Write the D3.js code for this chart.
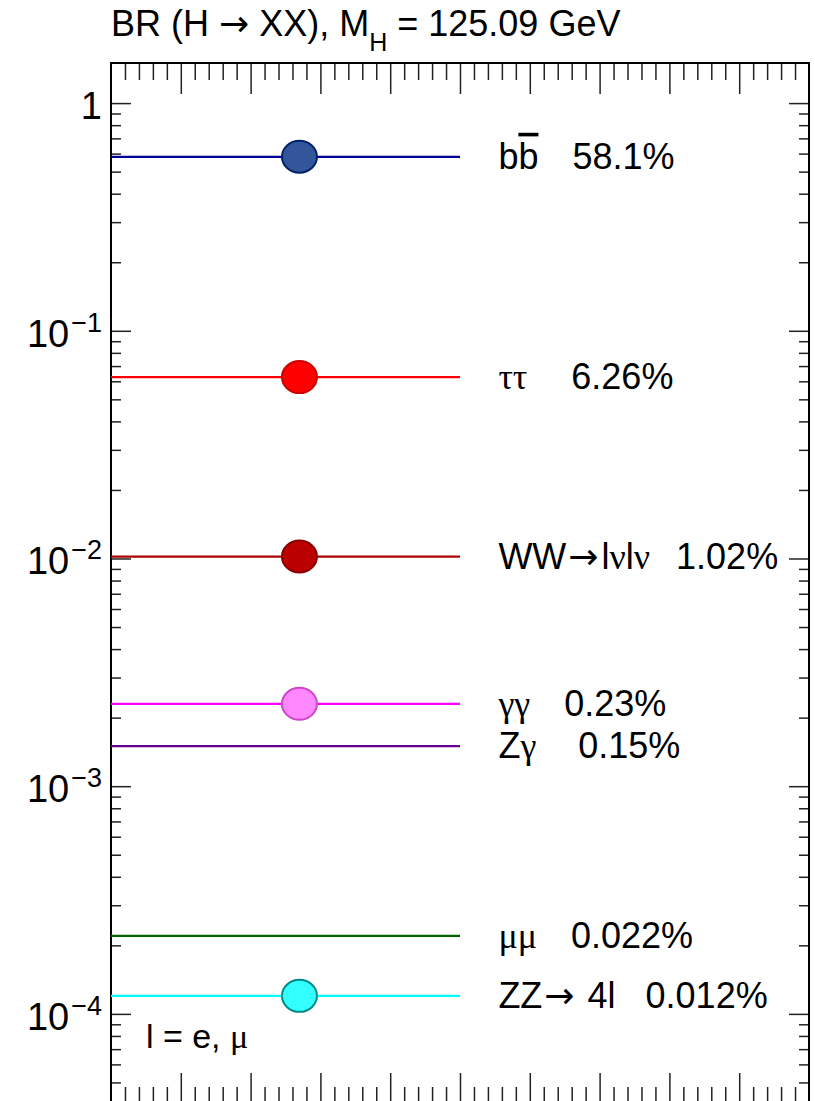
<!DOCTYPE html>
<html>
<head>
<meta charset="utf-8">
<script src="https://cdn.jsdelivr.net/npm/d3@7/dist/d3.min.js"></script>
<style>
  body { margin: 0; background: #fff; }
  svg { display: block; }
  text { font-family: "Liberation Sans", Arial, sans-serif; fill: #000; }
  .greek { font-family: "Liberation Serif", "DejaVu Serif", serif; }
  .arrow { font-family: "DejaVu Sans", sans-serif; }
</style>
</head>
<body>
<div class="chart"></div>
<script>
'use strict';

// Higgs branching ratios (M_H = 125.09 GeV)
var channels = ["bb", "tautau", "WW", "gammagamma", "Zgamma", "mumu", "ZZ"];
var brValues = [0.581, 0.0626, 0.0102, 0.0023, 0.0015, 0.00022, 0.00012];
var brLabels = ["58.1%", "6.26%", "1.02%", "0.23%", "0.15%", "0.022%", "0.012%"];
var lineColors = ["#000099", "#ff0000", "#aa0000", "#ff00ff", "#660099", "#006600", "#00ffff"];
var markerFills = ["#335599", "#ff0000", "#bb0000", "#ff88ff", null, null, "#33ffff"];
var markerStrokes = ["#002266", "#cc0000", "#880000", "#cc44cc", null, null, "#008888"];
var yMajorTicks = [1, 1e-1, 1e-2, 1e-3, 1e-4];
var yTickExponents = [0, -1, -2, -3, -4];

var width = 815, height = 1101;
var margin = {left: 111, right: 6, top: 63, bottom: -3};

var svg = d3.select(".chart").append("svg")
    .attr("width", width)
    .attr("height", height);

var x = d3.scaleLinear().domain([0, 1]).range([margin.left, width - margin.right]);
var y = d3.scaleLog().domain([4.02e-5, 1.5]).range([height - margin.bottom, margin.top]);

// minor ticks: 2..9 x 10^k
var yMinorTicks = [];
for (var k = -5; k <= 0; k++) {
    for (var m = 2; m <= 9; m++) {
        var v = m * Math.pow(10, k);
        if (v >= y.domain()[0] && v <= y.domain()[1]) yMinorTicks.push(v);
    }
}
var xMajorTicks = d3.range(1, 10).map(function (i) { return i / 10; });
var xMinorTicks = d3.range(1, 50).map(function (i) { return i / 50; })
    .filter(function (d, i) { return (i + 1) % 5 !== 0; });

function drawAxis(axis, tx, ty) {
    var g = svg.append("g")
        .attr("transform", "translate(" + tx + "," + ty + ")")
        .call(axis);
    g.select(".domain").remove();
    g.selectAll(".tick line").attr("stroke", "#222").attr("stroke-width", 1.5);
    g.selectAll(".tick text").remove();
    return g;
}

var x0 = x(0), x1 = x(1), yTop = y.range()[1], yBot = y.range()[0];

// left and right y axes (ticks pointing inward)
drawAxis(d3.axisRight(y).tickValues(yMajorTicks).tickSize(20), x0, 0);
drawAxis(d3.axisRight(y).tickValues(yMinorTicks).tickSize(10), x0, 0);
drawAxis(d3.axisLeft(y).tickValues(yMajorTicks).tickSize(20), x1, 0);
drawAxis(d3.axisLeft(y).tickValues(yMinorTicks).tickSize(10), x1, 0);

// top and bottom x axes
drawAxis(d3.axisBottom(x).tickValues(xMajorTicks).tickSize(31), 0, yTop);
drawAxis(d3.axisBottom(x).tickValues(xMinorTicks).tickSize(17), 0, yTop);
drawAxis(d3.axisTop(x).tickValues(xMajorTicks).tickSize(31), 0, yBot);
drawAxis(d3.axisTop(x).tickValues(xMinorTicks).tickSize(17), 0, yBot);

// frame
svg.append("rect")
    .attr("x", x0).attr("y", yTop)
    .attr("width", x1 - x0).attr("height", yBot - yTop)
    .attr("fill", "none").attr("stroke", "#000").attr("stroke-width", 2);

// y tick labels: 1, 10^-1 ...
var tickLabels = svg.append("g").selectAll("text")
    .data(yMajorTicks)
    .enter().append("text")
    .attr("x", x0 - 9)
    .attr("y", function (d) { return y(d); })
    .attr("dy", "0.42em")
    .attr("text-anchor", "end")
    .style("font-size", "38px");

tickLabels.each(function (d, i) {
    var t = d3.select(this);
    if (yTickExponents[i] === 0) {
        t.text("1");
    } else {
        t.append("tspan").text("10");
        t.append("tspan").attr("dx", 2).attr("dy", -15).style("font-size", "27px")
            .text("\u2212" + (-yTickExponents[i]));
    }
});

// BR lines
svg.append("g").selectAll("line")
    .data(brValues)
    .enter().append("line")
    .attr("x1", x(0)).attr("x2", x(0.5))
    .attr("y1", function (d) { return y(d); })
    .attr("y2", function (d) { return y(d); })
    .attr("stroke", function (d, i) { return lineColors[i]; })
    .attr("stroke-width", 2.2);

// markers
svg.append("g").selectAll("ellipse")
    .data(brValues.filter(function (d, i) { return markerFills[i]; }))
    .enter().append("ellipse")
    .attr("cx", x(0.27))
    .attr("cy", function (d) { return y(d); })
    .attr("rx", 17.5).attr("ry", 16)
    .attr("fill", function (d) { return markerFills[brValues.indexOf(d)]; })
    .attr("stroke", function (d) { return markerStrokes[brValues.indexOf(d)]; })
    .attr("stroke-width", 2);

// channel labels (name parts: [text, style])
var channelNames = {
    bb: [["b"], ["b", "bar"]],
    tautau: [["\u03c4\u03c4", "greek"]],
    WW: [["WW"], ["\u2192", "arrow"], ["l"], ["\u03bd", "greek"], ["l"], ["\u03bd", "greek"]],
    gammagamma: [["\u03b3\u03b3", "greek"]],
    Zgamma: [["Z"], ["\u03b3", "greek"]],
    mumu: [["\u03bc\u03bc", "greek"]],
    ZZ: [["ZZ"], ["\u2192", "arrow"], [" 4l"]]
};
var percentGap = [34, 44, 26, 34, 42, 34, 30];

var labels = svg.append("g").selectAll("text")
    .data(brValues)
    .enter().append("text")
    .attr("x", x(0.555))
    .attr("y", function (d) { return y(d); })
    .attr("dy", 12)
    .style("font-size", "36px")
    .attr("xml:space", "preserve");

labels.each(function (d, i) {
    var t = d3.select(this);
    var afterArrow = false;
    channelNames[channels[i]].forEach(function (p) {
        var s = t.append("tspan").text(p[0]);
        if (afterArrow) { s.attr("dx", 3); afterArrow = false; }
        if (p[1] === "bar") s.style("text-decoration", "overline");
        else if (p[1]) s.attr("class", p[1]);
        if (p[1] === "arrow") { s.attr("dx", 2); afterArrow = true; }
    });
    t.append("tspan").attr("dx", percentGap[i]).text(brLabels[i]);
});

// note
var note = svg.append("text")
    .attr("x", x(0.05))
    .attr("y", y(7.1e-5))
    .style("font-size", "34px")
    .attr("xml:space", "preserve");
note.append("tspan").text("l = e, ");
note.append("tspan").attr("class", "greek").text("\u03bc");

// title
var title = svg.append("text")
    .attr("x", x0)
    .attr("y", 36)
    .style("font-size", "36px")
    .attr("xml:space", "preserve");
title.append("tspan").text("BR (H ");
title.append("tspan").attr("class", "arrow").text("\u2192");
title.append("tspan").text(" XX), M");
title.append("tspan").attr("dy", 15).style("font-size", "25px").text("H");
title.append("tspan").attr("dy", -15).text(" = 125.09 GeV");
</script>
</body>
</html>
